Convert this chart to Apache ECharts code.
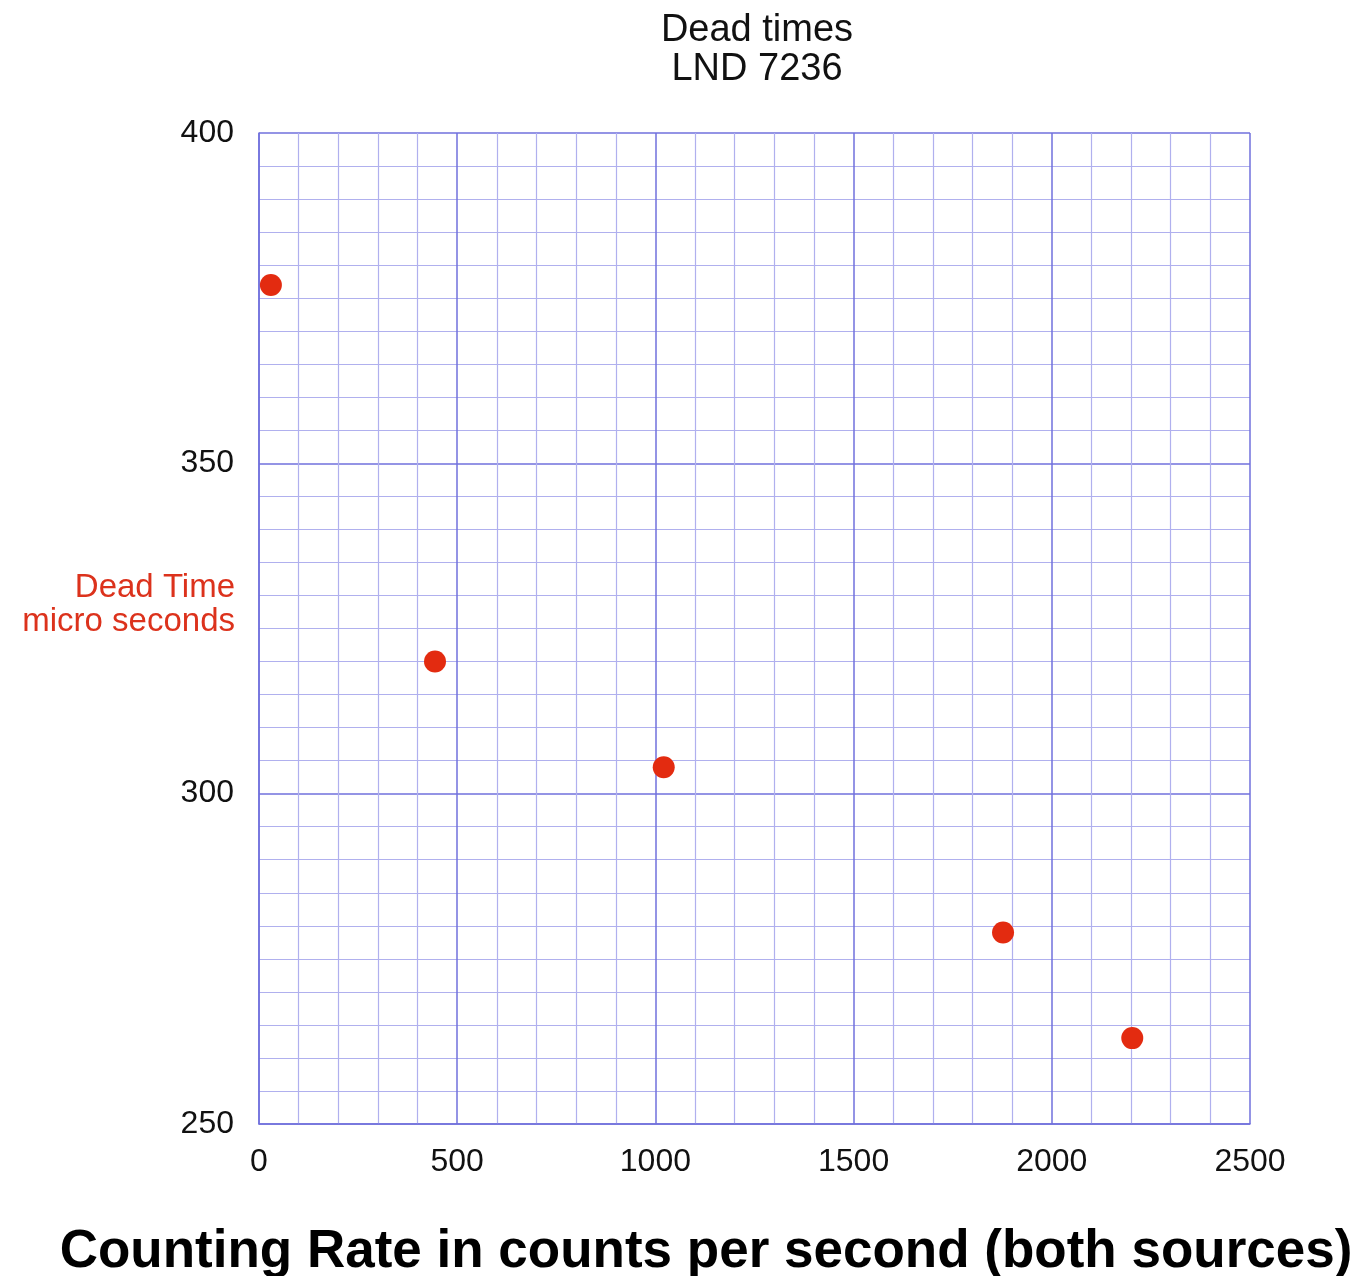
<!DOCTYPE html>
<html>
<head>
<meta charset="utf-8">
<script src="https://cdn.jsdelivr.net/npm/echarts@6/dist/echarts.min.js"></script>
<style>html,body{margin:0;padding:0;background:#fff;}#c{width:1365px;height:1276px;}</style>
</head>
<body>
<div id="c"></div>
<script>
const titleLines = ['Dead times', 'LND 7236'];
const xAxisTitle = 'Counting Rate in counts per second (both sources)';
const yAxisTitleLines = ['Dead Time', 'micro seconds'];
const countingRate = [30, 444, 1021, 1877, 2203];
const deadTime = [377, 320, 304, 279, 263];

const chart = echarts.init(document.getElementById('c'));
const majorBlue = '#7070dc';
const minorBlue = '#b0b0ee';
chart.setOption({
  backgroundColor: '#ffffff',
  animation: false,
  textStyle: { fontFamily: 'Liberation Sans, Arial, sans-serif' },
  title: [
    {
      text: titleLines.join('\n'),
      left: 752, top: 6, textAlign: 'center',
      textStyle: { fontSize: 38, fontWeight: 'normal', color: '#111', lineHeight: 39, fontFamily: 'Liberation Sans' }
    },
    {
      text: xAxisTitle,
      left: 701, top: 1221, textAlign: 'center',
      textStyle: { fontSize: 53, fontWeight: 'bold', color: '#000', fontFamily: 'Liberation Sans' }
    },
    {
      text: yAxisTitleLines.join('\n'),
      left: 230, top: 566, textAlign: 'right',
      textStyle: { fontSize: 33, fontWeight: 'normal', color: '#dc321c', lineHeight: 34, align: 'right', fontFamily: 'Liberation Sans' }
    }
  ],
  grid: { left: 259, right: 115, top: 133, bottom: 152, containLabel: false, outerBoundsMode: 'none' },
  xAxis: {
    type: 'value', min: 0, max: 2500, interval: 500,
    axisLine: { show: true, lineStyle: { color: majorBlue, width: 1.5 } },
    axisTick: { show: false },
    axisLabel: { fontSize: 32, color: '#111', margin: 22, fontFamily: 'Liberation Sans', formatter: v => String(v) },
    splitLine: { show: true, lineStyle: { color: majorBlue, width: 1.5 } },
    minorTick: { show: false, splitNumber: 5 },
    minorSplitLine: { show: true, lineStyle: { color: minorBlue, width: 1.2 } }
  },
  yAxis: {
    type: 'value', min: 250, max: 400, interval: 50,
    axisLine: { show: true, lineStyle: { color: majorBlue, width: 1.5 } },
    axisTick: { show: false },
    axisLabel: { fontSize: 32, color: '#111', margin: 25, fontFamily: 'Liberation Sans', formatter: v => String(v) },
    splitLine: { show: true, lineStyle: { color: majorBlue, width: 1.5 } },
    minorTick: { show: false, splitNumber: 10 },
    minorSplitLine: { show: true, lineStyle: { color: minorBlue, width: 1.2 } }
  },
  series: [{
    type: 'scatter',
    data: countingRate.map((x, i) => [x, deadTime[i]]),
    symbol: 'circle', symbolSize: 22,
    itemStyle: { color: '#e32b10', opacity: 1 }
  }]
});
</script>
</body>
</html>
